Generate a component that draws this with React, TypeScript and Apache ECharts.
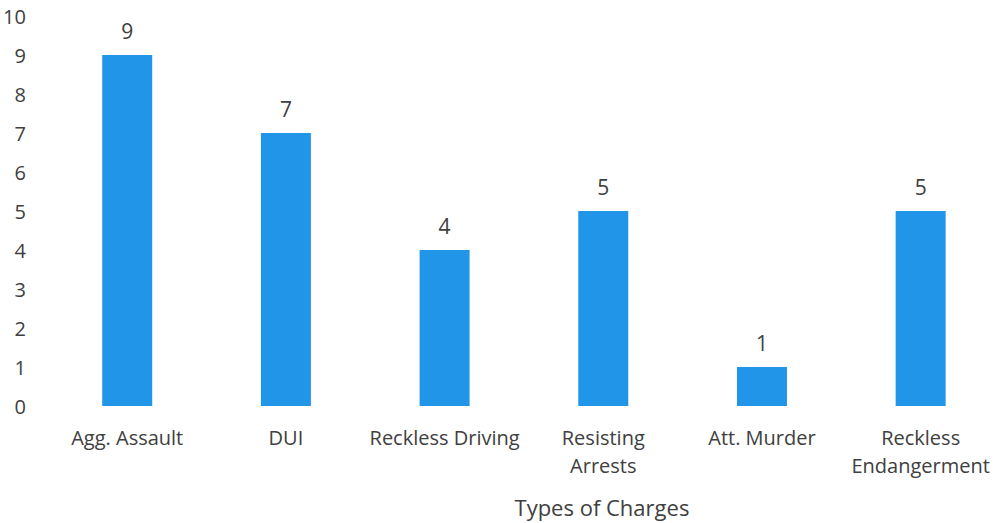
import React, { useEffect, useRef } from "react";
import * as echarts from "echarts";

const categories = ["Agg. Assault", "DUI", "Reckless Driving", "Resisting\nArrests", "Att. Murder", "Reckless\nEndangerment"];
const counts = [9, 7, 4, 5, 1, 5];
const yTicks = { min: 0, max: 10, interval: 1 };
const axisTitle = "Types of Charges";

export default function App() {
  const ref = useRef<HTMLDivElement>(null);
  useEffect(() => {
    if (!ref.current) return;
    const chart = echarts.init(ref.current, null, { renderer: "svg" });
    const font = "'Open Sans', 'Noto Sans', sans-serif";
    chart.setOption({
      animation: false,
      backgroundColor: "#ffffff",
      grid: { left: 46, top: 16, width: 958, height: 394, containLabel: false },
      xAxis: {
        type: "category",
        data: categories,
        axisLine: { show: false },
        axisTick: { show: false },
        axisLabel: { color: "#404040", fontSize: 20, fontFamily: font, margin: 17, lineHeight: 28, interval: 0 },
        name: axisTitle,
        nameLocation: "middle",
        nameGap: 90,
        nameTextStyle: { color: "#404040", fontSize: 22, fontFamily: font, padding: [0, 0, 0, 156] },
      },
      yAxis: {
        type: "value",
        min: yTicks.min,
        max: yTicks.max,
        interval: yTicks.interval,
        axisLine: { show: false },
        axisTick: { show: false },
        splitLine: { show: false },
        axisLabel: { color: "#404040", fontSize: 20, fontFamily: font, margin: 22 },
      },
      series: [
        {
          type: "bar",
          data: counts,
          barWidth: 50,
          itemStyle: { color: "#2196e8" },
          label: { show: true, position: "top", distance: 14, color: "#404040", fontSize: 21, fontFamily: font },
        },
      ],
    });
    return () => chart.dispose();
  }, []);
  return <div ref={ref} style={{ position: "absolute", left: 0, top: 0, width: 1000, height: 523 }} />;
}
